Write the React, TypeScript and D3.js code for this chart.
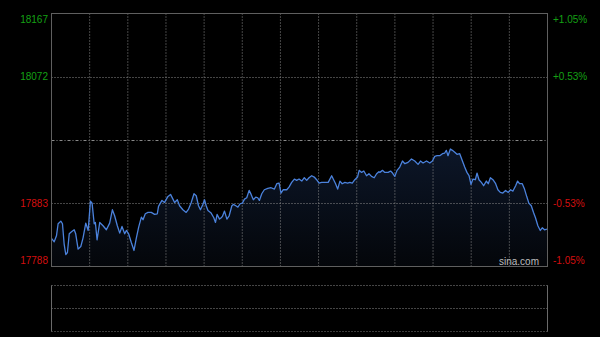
import React from "react";
import * as d3 from "d3";

// minutes since open
const minutes = [
  0, 1.8, 3.3, 4.4, 6.2, 7.3, 8.4, 9.5, 10.6, 11.8, 13.3, 15.1, 16.1, 17.7, 19.5, 21.0, 22.8, 24.4, 25.9, 27.0,
  28.4, 29.2, 30.3, 32.1, 34.3, 36.5, 38.7, 40.5, 42.0, 43.8, 45.4, 46.9, 48.7, 49.8, 51.3, 53.1, 54.9, 56.4, 58.0, 59.8,
  60.9, 62.4, 64.2, 66.4, 68.6, 70.4, 71.2, 73.5, 75.2, 77.5, 79.2, 80.8, 81.9, 83.7, 85.2, 87.4, 89.6, 91.2, 93.0, 94.8,
  96.3, 97.8, 99.1, 100.7, 101.8, 102.9, 104.1, 106.2, 108.0, 109.1, 110.2, 111.8, 112.9, 113.7, 115.1, 116.7, 118.2, 120.0, 121.0, 122.6,
  124.0, 125.5, 127.0, 128.4, 129.9, 131.5, 132.8, 134.3, 135.9, 137.2, 138.3, 139.9, 141.6, 143.9, 146.1, 148.3, 149.9, 151.4, 152.7, 154.2,
  156.5, 158.0, 159.8, 161.6, 163.1, 164.7, 166.5, 168.2, 169.8, 171.3, 173.1, 174.8, 176.4, 178.0, 179.7, 181.9, 184.1, 186.4, 187.7, 189.0,
  190.4, 191.9, 193.4, 195.2, 197.0, 198.5, 200.1, 201.8, 203.6, 204.7, 206.3, 207.8, 209.6, 211.2, 212.9, 214.7, 216.3, 217.8, 218.5, 220.2,
  221.8, 224.0, 225.6, 226.9, 228.4, 229.9, 231.7, 233.5, 235.1, 237.2, 239.5, 241.7, 243.9, 245.5, 247.2, 249.5, 251.7, 253.4, 255.0, 256.5,
  258.3, 260.1, 261.6, 262.7, 263.8, 265.4, 266.7, 268.3, 269.8, 271.6, 273.4, 274.9, 276.4, 277.8, 279.1, 280.4, 282.0, 283.1, 284.4, 286.0,
  287.5, 289.3, 290.6, 292.0, 293.7, 295.5, 297.0, 298.6, 300.3, 302.1, 303.9, 305.4, 307.0, 308.8, 310.1, 311.4, 313.2, 314.7, 316.3, 317.6,
  319.2, 320.7, 322.0, 323.6, 325.2, 326.5, 328.0, 329.6,
];

const prices = [
  17830, 17825, 17834, 17852, 17856, 17852, 17822, 17806, 17809, 17837, 17840, 17843, 17837, 17814, 17818, 17831, 17853, 17842, 17886, 17883,
  17852, 17854, 17828, 17854, 17849, 17843, 17853, 17873, 17864, 17849, 17838, 17848, 17837, 17842, 17837, 17824, 17812, 17830, 17847, 17862,
  17858, 17867, 17869, 17869, 17866, 17867, 17878, 17887, 17884, 17893, 17896, 17889, 17884, 17888, 17879, 17873, 17869, 17874, 17884, 17897,
  17894, 17879, 17873, 17881, 17888, 17879, 17872, 17868, 17861, 17854, 17866, 17859, 17861, 17863, 17871, 17859, 17864, 17879, 17881, 17879,
  17877, 17882, 17883, 17889, 17891, 17902, 17896, 17888, 17892, 17891, 17887, 17897, 17903, 17905, 17906, 17904, 17912, 17913, 17898, 17903,
  17903, 17907, 17914, 17919, 17917, 17919, 17916, 17921, 17917, 17921, 17924, 17922, 17918, 17913, 17914, 17914, 17914, 17924, 17918, 17912,
  17904, 17916, 17912, 17914, 17913, 17914, 17913, 17918, 17922, 17932, 17929, 17931, 17924, 17927, 17923, 17921, 17927, 17930, 17929, 17932,
  17929, 17929, 17931, 17928, 17923, 17932, 17937, 17946, 17942, 17944, 17949, 17946, 17941, 17946, 17943, 17946, 17943, 17946, 17953, 17954,
  17954, 17957, 17958, 17962, 17954, 17964, 17962, 17959, 17956, 17957, 17946, 17937, 17929, 17924, 17911, 17919, 17918, 17928, 17918, 17914,
  17909, 17916, 17912, 17921, 17918, 17912, 17903, 17899, 17898, 17902, 17899, 17903, 17901, 17909, 17916, 17912, 17912, 17904, 17892, 17883,
  17879, 17869, 17861, 17849, 17842, 17846, 17843, 17844,
];

const priceTicks = [18167, 18072, 17977.5, 17883, 17788];
const priceLabels = ["18167", "18072", "", "17883", "17788"];
const pctLabels = ["+1.05%", "+0.53%", "", "-0.53%", "-1.05%"];
const totalMinutes = 330;
const columns = 13;

const W = 600;
const H = 337;
const L = 51.5;
const R = 547.5;
const T = 13.5;
const B = 266.5;
const VT = 285.5;
const VB = 331.5;

export default function App() {
  const x = d3.scaleLinear().domain([0, totalMinutes]).range([L, R]);
  const y = d3.scaleLinear().domain([17788, 18167]).range([B, T]);
  const data = minutes.map((m, i) => ({ m, p: prices[i] }));
  const line = d3
    .line<{ m: number; p: number }>()
    .x((d) => x(d.m))
    .y((d) => y(d.p))
    .curve(d3.curveLinear);
  const area = d3
    .area<{ m: number; p: number }>()
    .x((d) => x(d.m))
    .y0(B)
    .y1((d) => y(d.p));
  const colX = d3.range(1, columns).map((k) => L + ((R - L) * k) / columns);
  const font = "Arial, 'Liberation Sans', Helvetica, sans-serif";
  const green = "#14a014";
  const red = "#d40f0f";
  const labelY = (i: number, v: number) => {
    const yy = y(v);
    if (i === 0) return yy + 6;
    if (i === priceTicks.length - 1) return yy - 6;
    return yy;
  };

  return (
    <div style={{ position: "fixed", left: 0, top: 0, width: W, height: H, background: "#000" }}>
      <svg width={W} height={H} style={{ display: "block" }}>
        <defs>
          <linearGradient id="fillg" x1="0" y1="0" x2="0" y2="1">
            <stop offset="0%" stopColor="#0c1628" />
            <stop offset="100%" stopColor="#04060a" />
          </linearGradient>
        </defs>
        <rect x={0} y={0} width={W} height={H} fill="#000" />
        <path d={area(data) || ""} fill="url(#fillg)" />
        {colX.map((cx, i) => (
          <line key={"v" + i} x1={cx} x2={cx} y1={T} y2={B} stroke="#8a8a8a" strokeWidth={1} strokeDasharray="1,2" />
        ))}
        {priceTicks.map((v, i) =>
          i === 0 || i === priceTicks.length - 1 ? null : (
            <line
              key={"h" + i}
              x1={L}
              x2={R}
              y1={Math.round(y(v)) + 0.5}
              y2={Math.round(y(v)) + 0.5}
              stroke="#8a8a8a"
              strokeWidth={1}
              strokeDasharray={i === 2 ? "3,2,1,2" : "1,2"}
            />
          )
        )}
        <path d={line(data) || ""} fill="none" stroke="#4b82dc" strokeWidth={1.3} strokeLinejoin="round" />
        <rect x={L} y={T} width={R - L} height={B - T} fill="none" stroke="#5f5f5f" strokeWidth={1} />
        {priceTicks.map((v, i) =>
          priceLabels[i] ? (
            <text
              key={"l" + i}
              x={48}
              y={labelY(i, v)}
              textAnchor="end"
              dominantBaseline="central"
              fontFamily={font}
              fontSize={10}
              fill={i < 2 ? green : red}
            >
              {priceLabels[i]}
            </text>
          ) : null
        )}
        {priceTicks.map((v, i) =>
          pctLabels[i] ? (
            <text
              key={"r" + i}
              x={553}
              y={labelY(i, v)}
              textAnchor="start"
              dominantBaseline="central"
              fontFamily={font}
              fontSize={10}
              fill={i < 2 ? green : red}
            >
              {pctLabels[i]}
            </text>
          ) : null
        )}
        <text x={499} y={261} dominantBaseline="central" fontFamily={font} fontSize={10} fill="#bdbdbd">
          sina.com
        </text>
        {/* volume panel */}
        <line x1={L} x2={R} y1={VT} y2={VT} stroke="#8a8a8a" strokeDasharray="1,2" />
        <line x1={L} x2={R} y1={(VT + VB) / 2} y2={(VT + VB) / 2} stroke="#8a8a8a" strokeDasharray="1,2" />
        <line x1={L} x2={R} y1={VB} y2={VB} stroke="#777" strokeDasharray="1,2" />
        <line x1={L} x2={L} y1={VT} y2={VB} stroke="#6a6a6a" />
        <line x1={R} x2={R} y1={VT} y2={VB} stroke="#6a6a6a" />
      </svg>
    </div>
  );
}
